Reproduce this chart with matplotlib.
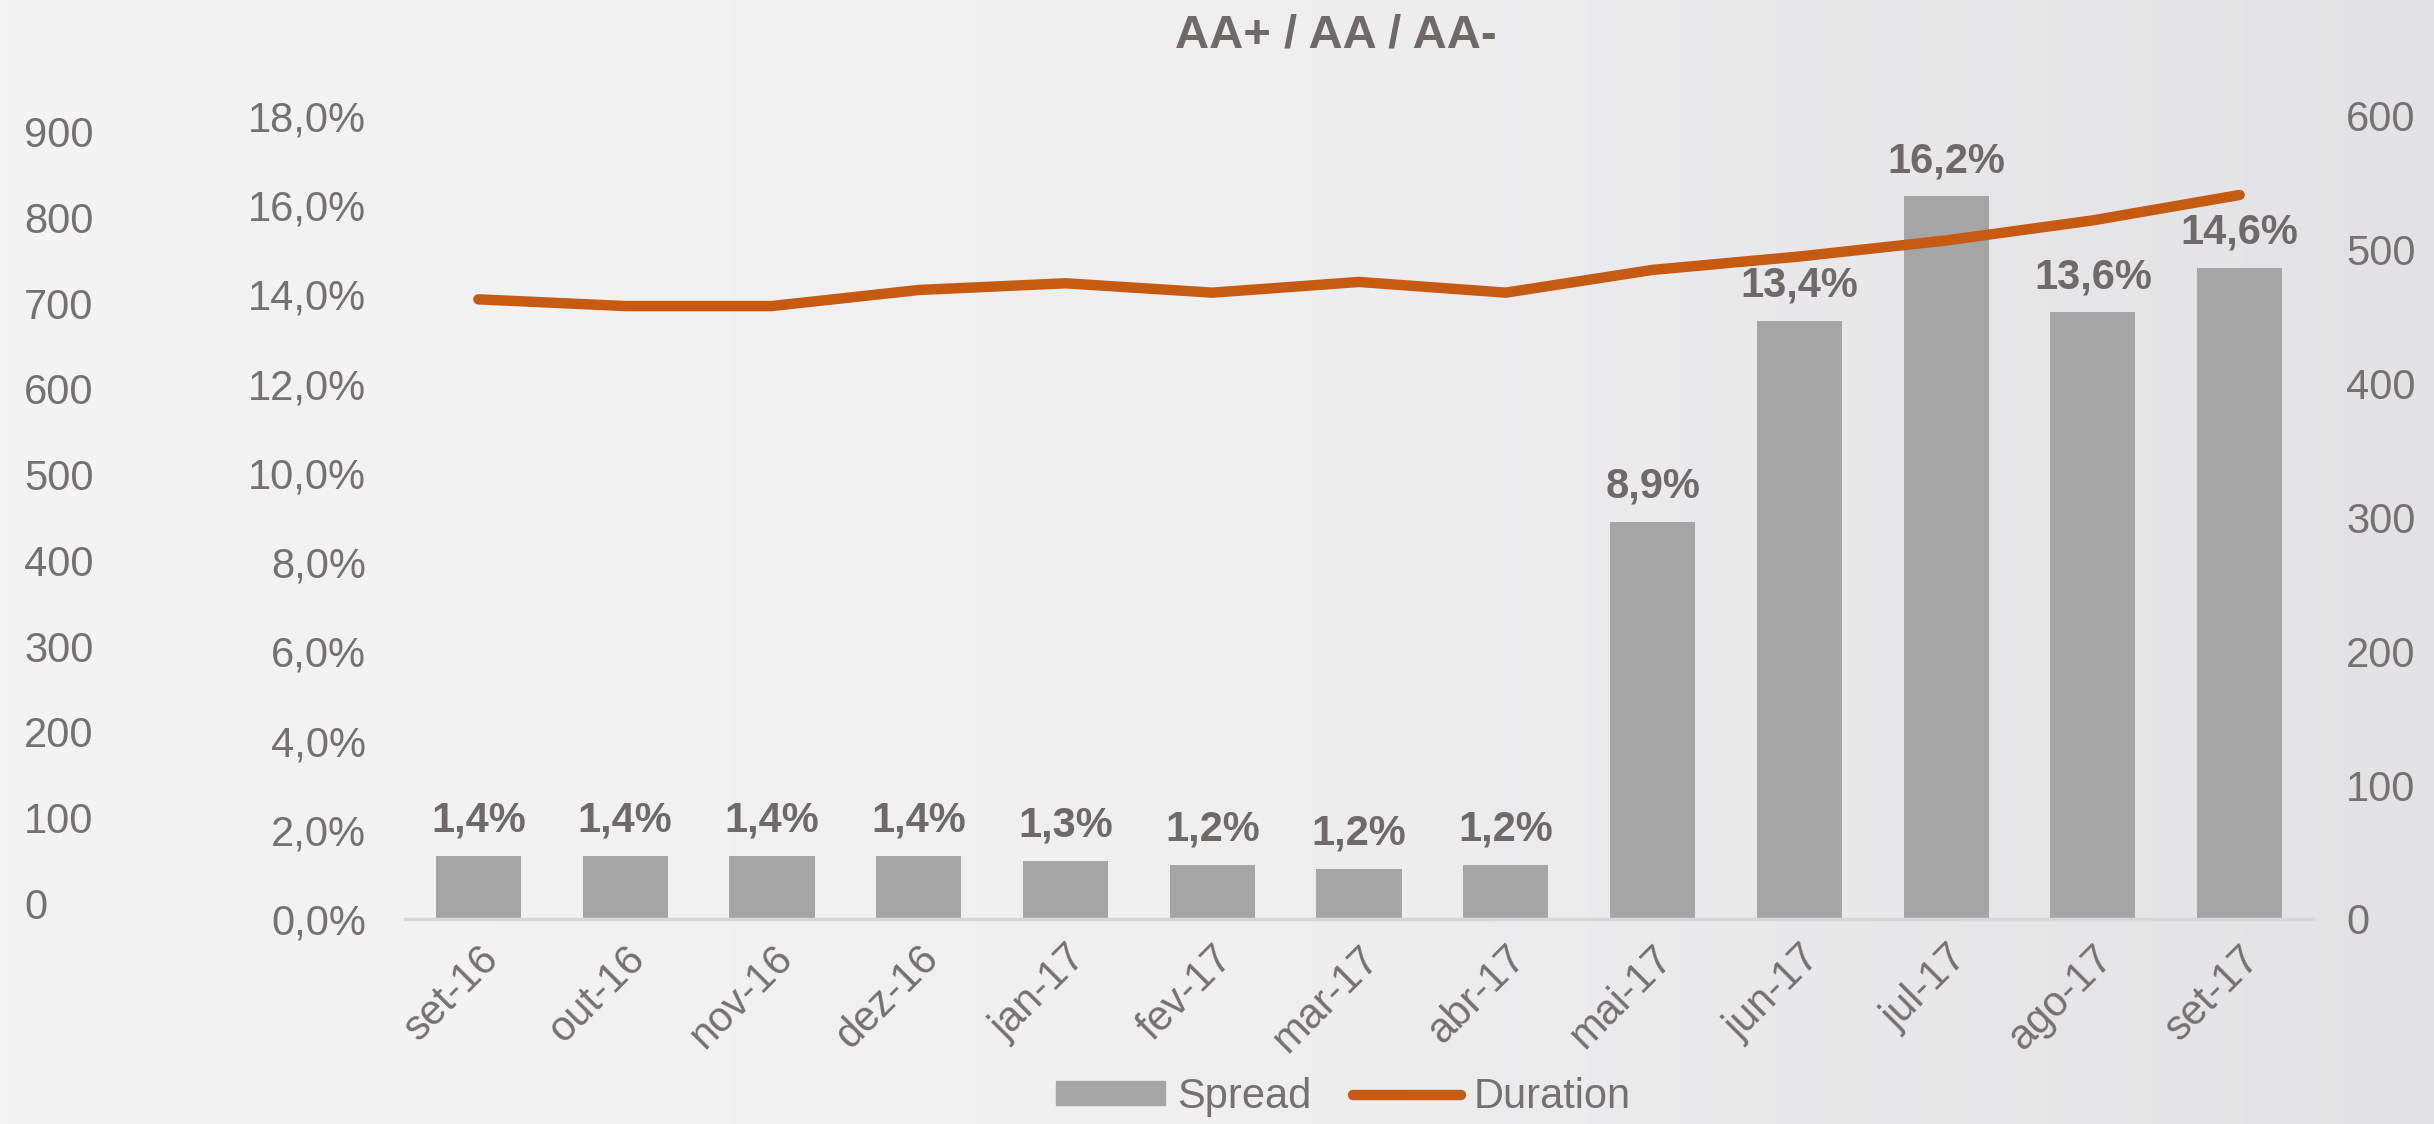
import matplotlib
matplotlib.use("Agg")
import matplotlib.pyplot as plt
import matplotlib.transforms as mtransforms
from matplotlib.colors import LinearSegmentedColormap
import numpy as np

plt.rcParams['font.family'] = ['Liberation Sans', 'DejaVu Sans']

# dados
meses = ['set-16', 'out-16', 'nov-16', 'dez-16', 'jan-17', 'fev-17', 'mar-17',
         'abr-17', 'mai-17', 'jun-17', 'jul-17', 'ago-17', 'set-17']
spread = [1.4, 1.4, 1.4, 1.4, 1.3, 1.2, 1.2, 1.2, 8.9, 13.4, 16.2, 13.6, 14.6]
spread_alturas = [1.42, 1.41, 1.41, 1.42, 1.31, 1.22, 1.13, 1.22, 8.9, 13.4, 16.2, 13.6, 14.6]
duration = [463, 458, 458, 470, 475, 468, 476, 468, 485, 495, 507, 522, 541]
eixo_esq_ticks = [0, 100, 200, 300, 400, 500, 600, 700, 800, 900]
eixo_pct_ticks = [0, 2, 4, 6, 8, 10, 12, 14, 16, 18]
eixo_dir_ticks = [0, 100, 200, 300, 400, 500, 600]

COR_TEXTO = '#767171'
COR_ROTULO = '#6e6a6a'
COR_BARRA = '#a5a5a5'
COR_LINHA = '#c55a11'
FS = 30

fig = plt.figure(figsize=(24.34, 11.24), dpi=100)

# fundo em degradê
bg = fig.add_axes([0, 0, 1, 1], zorder=-10)
grad = np.linspace(0, 1, 256).reshape(1, -1)
cmap = LinearSegmentedColormap.from_list('bg', ['#f4f4f4', '#efeff0', '#e2e2e4'])
bg.imshow(grad, aspect='auto', cmap=cmap, extent=[0, 1, 0, 1])
bg.axis('off')

# eixo principal (spread)
ax = fig.add_axes([0.1664, 0.1824, 0.7839, 0.7144])
ax.patch.set_alpha(0)
x = np.arange(len(meses))
ax.bar(x, spread_alturas, width=0.58, color=COR_BARRA, zorder=2)
for xi, h, v in zip(x, spread_alturas, spread):
    ax.annotate(f"{v:.1f}%".replace('.', ','), (xi, h), xytext=(0, 11),
                textcoords='offset points', ha='center', va='bottom',
                fontsize=FS, fontweight='bold', color=COR_ROTULO)

ax.set_xlim(-0.5, 12.5)
ax.set_ylim(0, 18)
ax.set_yticks(eixo_pct_ticks)
ax.set_yticklabels([f"{t:.1f}%".replace('.', ',') for t in eixo_pct_ticks])
ax.set_xticks(x)
ax.set_xticklabels(meses, rotation=45, ha='right', rotation_mode='anchor')
offset = mtransforms.ScaledTranslation(0.28, -0.04, fig.dpi_scale_trans)
for lab in ax.get_xticklabels():
    lab.set_transform(lab.get_transform() + offset)
ax.tick_params(axis='both', length=0, labelsize=FS, labelcolor=COR_TEXTO)
ax.tick_params(axis='y', pad=28)
ax.tick_params(axis='x', pad=14)
for s in ['top', 'right', 'left']:
    ax.spines[s].set_visible(False)
ax.spines['bottom'].set_color('#d6d6d6')
ax.spines['bottom'].set_linewidth(2.5)

# eixo direito (duration)
ax2 = ax.twinx()
ax2.plot(x, duration, color=COR_LINHA, linewidth=7.5, solid_capstyle='round',
         solid_joinstyle='round', zorder=3)
ax2.set_ylim(0, 600)
ax2.set_yticks(eixo_dir_ticks)
ax2.tick_params(axis='y', length=0, labelsize=FS, labelcolor=COR_TEXTO, pad=24)
for s in ax2.spines.values():
    s.set_visible(False)

# terceiro eixo à esquerda
ax3 = fig.add_axes([0.0094, 0.1966, 0.0005, 0.686])
ax3.patch.set_alpha(0)
ax3.set_ylim(0, 900)
ax3.set_yticks(eixo_esq_ticks)
ax3.set_xticks([])
ax3.yaxis.tick_right()
ax3.tick_params(axis='y', length=0, labelsize=FS, labelcolor=COR_TEXTO, pad=0)
for s in ax3.spines.values():
    s.set_visible(False)

fig.text(0.5487, 0.968, 'AA+ / AA / AA-', ha='center', va='center',
         fontsize=34, fontweight='bold', color='#6e6a6a')

h1 = plt.Rectangle((0, 0), 1, 1, color=COR_BARRA)
h2 = plt.Line2D([], [], color=COR_LINHA, linewidth=7.5, solid_capstyle='round')
fig.legend([h1, h2], ['Spread', 'Duration'], loc='center',
           bbox_to_anchor=(0.552, 0.024), ncol=2, frameon=False, fontsize=FS,
           handlelength=2.6, handleheight=0.5, handletextpad=0.3,
           columnspacing=1.0, labelcolor=COR_TEXTO, borderpad=0.1)

fig.savefig('out.png', dpi=100)
